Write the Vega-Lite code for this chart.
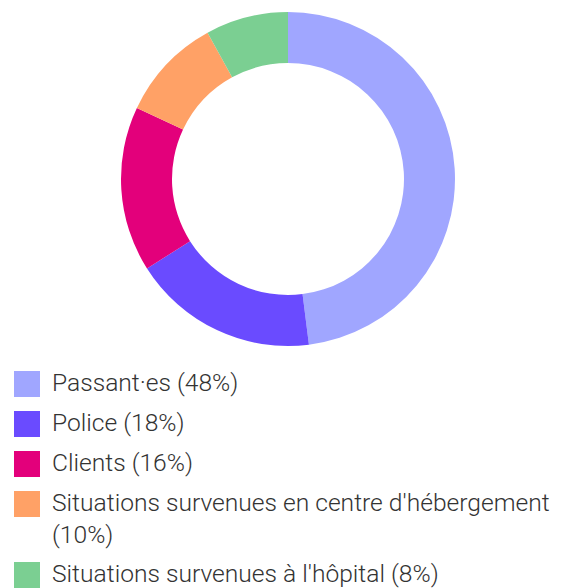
{
  "$schema": "https://vega.github.io/schema/vega-lite/v6.json",
  "autosize": "none",
  "width": 560,
  "height": 358,
  "padding": {"left": 8, "top": 0, "right": 0, "bottom": 230},
  "background": "white",
  "config": {
    "view": {"stroke": null},
    "font": "Roboto",
    "style": {"guide-label": {"lineHeight": 32}}
  },
  "data": {
    "values": [
      {"cat": "Passant·es (48%)", "value": 48, "ord": 1},
      {"cat": "Police (18%)", "value": 18, "ord": 2},
      {"cat": "Clients (16%)", "value": 16, "ord": 3},
      {"cat": "Situations survenues en centre d'hébergement (10%)", "value": 10, "ord": 4},
      {"cat": "Situations survenues à l'hôpital (8%)", "value": 8, "ord": 5}
    ]
  },
  "mark": {"type": "arc", "outerRadius": 167, "innerRadius": 116},
  "encoding": {
    "theta": {"field": "value", "type": "quantitative", "stack": true},
    "order": {"field": "ord", "type": "quantitative"},
    "color": {
      "field": "cat",
      "type": "nominal",
      "scale": {
        "domain": ["Passant·es (48%)", "Police (18%)", "Clients (16%)", "Situations survenues en centre d'hébergement (10%)", "Situations survenues à l'hôpital (8%)"],
        "range": ["#a0a6ff", "#6a4bff", "#e3007b", "#ffa166", "#7bcf92"]
      },
      "legend": {
        "title": null,
        "orient": "none",
        "legendX": 6,
        "legendY": 371,
        "direction": "vertical",
        "symbolType": "square",
        "symbolSize": 676,
        "symbolStrokeWidth": 0,
        "symbolOpacity": 1,
        "labelFontSize": 24.6,
        "labelFontWeight": 300,
        "labelFont": "Roboto",
        "labelColor": "#333333",
        "labelOffset": 12,
        "labelLimit": 600,
        "rowPadding": 14,
        "labelExpr": "datum.label == \"Situations survenues en centre d'hébergement (10%)\" ? [\"Situations survenues en centre d'hébergement\", \"(10%)\"] : datum.label"
      }
    }
  }
}
